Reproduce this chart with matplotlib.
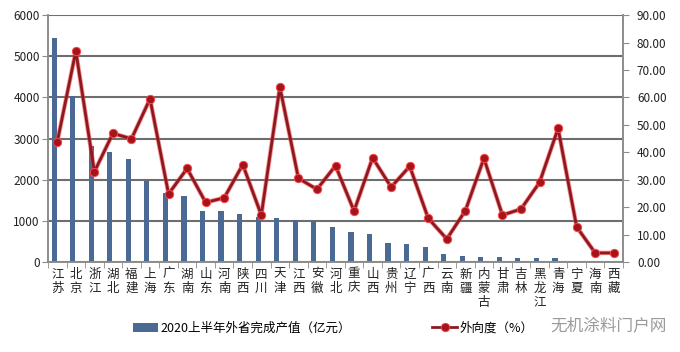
import matplotlib
matplotlib.use("Agg")
import matplotlib.pyplot as plt
import numpy as np

plt.rcParams['font.family'] = ['Noto Sans CJK SC', 'DejaVu Sans']

provinces = ["江苏", "北京", "浙江", "湖北", "福建", "上海", "广东", "湖南", "山东", "河南",
             "陕西", "四川", "天津", "江西", "安徽", "河北", "重庆", "山西", "贵州", "辽宁",
             "广西", "云南", "新疆", "内蒙古", "甘肃", "吉林", "黑龙江", "青海", "宁夏", "海南", "西藏"]
output_value = [5450, 4030, 2815, 2670, 2500, 1960, 1665, 1595, 1230, 1230,
                1155, 1090, 1060, 1020, 1000, 858, 720, 675, 462, 437,
                362, 202, 146, 121, 121, 105, 89, 89, 15, 3, 3]
outward_ratio = [43.8, 76.9, 32.9, 46.9, 44.9, 59.5, 24.8, 34.1, 21.7, 23.4,
                 35.5, 17.1, 63.8, 30.5, 26.5, 35.1, 18.6, 38.0, 27.3, 34.9,
                 15.9, 8.4, 18.7, 37.8, 17.1, 19.3, 29.0, 48.7, 12.8, 3.3, 3.3]
left_ticks = [0, 1000, 2000, 3000, 4000, 5000, 6000]
right_ticks = [0, 10, 20, 30, 40, 50, 60, 70, 80, 90]

x = np.arange(len(provinces))
grey = "#8c8c8c"

fig = plt.figure(figsize=(6.8, 3.52), dpi=100)
ax = fig.add_axes([0.0706, 0.2557, 0.8456, 0.7013])
ax2 = ax.twinx()
ax2.patch.set_visible(False)

ax.set_axisbelow(True)
ax.yaxis.grid(True, color="#6e6e6e", linewidth=1.5)
ax.bar(x - 0.17, output_value, width=0.28, color="#4a6a94", zorder=2,
       label="2020上半年外省完成产值（亿元）")
ax.set_ylim(0, 6000)
ax.set_xlim(-0.5, len(provinces) - 0.5)
ax.set_yticks(left_ticks)
ax.set_yticklabels([str(t) for t in left_ticks], fontsize=8.5, color="#222222")

# category labels stacked vertically
ax.set_xticks(x)
ax.set_xticklabels(["\n".join(p) for p in provinces], fontsize=9, linespacing=1.1,
                   va="top", color="#222222")
ax.tick_params(axis="x", length=0, pad=4)
ax.set_xticks(np.arange(-0.5, len(provinces)), minor=True)
ax.tick_params(axis="x", which="minor", length=4, color=grey, direction="out")
ax.tick_params(axis="y", length=4, color=grey, direction="out", pad=2)

ax2.plot(x, outward_ratio, color="#ff3b3b", linewidth=3.2, alpha=0.6, zorder=3)
ax2.plot(x, outward_ratio, color="#8a1a22", linewidth=2.0, zorder=4,
         marker="o", markersize=6, markerfacecolor="#a3141c",
         markeredgecolor="#ff4545", markeredgewidth=0.7, label="外向度（%）")
ax2.set_ylim(0, 90)
ax2.set_yticks(right_ticks)
ax2.set_yticklabels(["%.2f" % t for t in right_ticks], fontsize=8.5, color="#222222")
ax2.tick_params(axis="y", length=4, color=grey, direction="out", pad=6)

for a in (ax, ax2):
    a.spines["top"].set_visible(False)
    for s in ["left", "right", "bottom"]:
        a.spines[s].set_color(grey)
        a.spines[s].set_linewidth(1.2)

h1, l1 = ax.get_legend_handles_labels()
h2, l2 = ax2.get_legend_handles_labels()
fig.legend(h1 + h2, l1 + l2, loc="center", bbox_to_anchor=(0.49, 0.068), ncol=2,
           frameon=False, fontsize=9, columnspacing=6.5, handlelength=2.0,
           handletextpad=0.2)

fig.text(0.98, 0.075, "无机涂料门户网", fontsize=12, color="#9a9a9a",
         ha="right", va="center")

fig.savefig("out.png", dpi=100)
